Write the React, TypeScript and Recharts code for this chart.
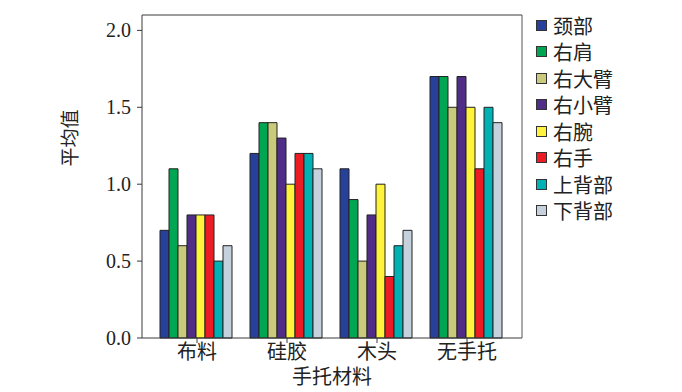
import { BarChart, Bar, XAxis, YAxis, ReferenceLine } from "recharts";

const categories = ["布料", "硅胶", "木头", "无手托"];
const seriesNames = ["颈部", "右肩", "右大臂", "右小臂", "右腕", "右手", "上背部", "下背部"];
const seriesColors = ["#27409A", "#00A651", "#CACA7C", "#502D86", "#FFF33B", "#EC1C24", "#00B2B4", "#C5D1DC"];

const neck = [0.7, 1.2, 1.1, 1.7];
const rightShoulder = [1.1, 1.4, 0.9, 1.7];
const rightUpperArm = [0.6, 1.4, 0.5, 1.5];
const rightForearm = [0.8, 1.3, 0.8, 1.7];
const rightWrist = [0.8, 1.0, 1.0, 1.5];
const rightHand = [0.8, 1.2, 0.4, 1.1];
const upperBack = [0.5, 1.2, 0.6, 1.5];
const lowerBack = [0.6, 1.1, 0.7, 1.4];

const yTicks = [0, 0.5, 1.0, 1.5, 2.0];

const seriesValues = [neck, rightShoulder, rightUpperArm, rightForearm, rightWrist, rightHand, upperBack, lowerBack];

const data = categories.map((name, i) => {
  const row: Record<string, string | number> = { name };
  seriesNames.forEach((s, j) => {
    row[s] = seriesValues[j][i];
  });
  return row;
});

const FONT = "'Liberation Serif', 'Noto Sans CJK SC', serif";
const AXIS = "#3a3a3a";

// legend kept outside the chart so it doesn't eat plot width
const ChartLegend = () => (
  <div
    style={{
      position: "absolute",
      left: 536,
      top: 12,
      fontFamily: "'Noto Sans CJK SC', sans-serif",
      fontSize: 20,
      color: "#222",
    }}
  >
    {seriesNames.map((s, i) => (
      <div key={s} style={{ display: "flex", alignItems: "center", height: 26.5 }}>
        <span
          style={{
            display: "inline-block",
            width: 9,
            height: 9,
            background: seriesColors[i],
            border: "1px solid #333",
            marginRight: 6,
          }}
        />
        <span>{s}</span>
      </div>
    ))}
  </div>
);

export default function App() {
  return (
    <div style={{ position: "absolute", left: 0, top: 0, width: 682, height: 392, background: "#fff" }}>
      <BarChart
        width={682}
        height={392}
        data={data}
        margin={{ top: 15, right: 159, left: 82, bottom: 24 }}
        barCategoryGap={8}
        barGap={0}
      >
        <XAxis
          dataKey="name"
          padding={{ left: 10, right: 10 }}
          height={30}
          stroke={AXIS}
          tickSize={5}
          tick={{ fill: "#222", fontSize: 20, fontFamily: FONT }}
          label={{ value: "手托材料", position: "insideBottom", offset: -16, fill: "#222", fontSize: 20, fontFamily: FONT }}
        />
        <YAxis
          width={60}
          domain={[0, 2.1]}
          ticks={yTicks}
          tickFormatter={(v: number) => v.toFixed(1)}
          stroke={AXIS}
          tickSize={5}
          tickMargin={6}
          interval={0}
          tick={{ fill: "#222", fontSize: 20, fontFamily: FONT }}
          label={{ value: "平均值", angle: -90, position: "insideLeft", offset: -12, dy: -10, fill: "#222", fontSize: 19, fontFamily: FONT }}
        />
        <YAxis
          yAxisId="frame"
          orientation="right"
          width={1}
          domain={[0, 2.1]}
          tick={false}
          tickLine={false}
          stroke="#555"
        />
        <ReferenceLine y={2.1} stroke={AXIS} strokeWidth={1} />
        {seriesNames.map((s, i) => (
          <Bar key={s} dataKey={s} fill={seriesColors[i]} stroke="#222" strokeWidth={1} isAnimationActive={false} />
        ))}
      </BarChart>
      <ChartLegend />
    </div>
  );
}
